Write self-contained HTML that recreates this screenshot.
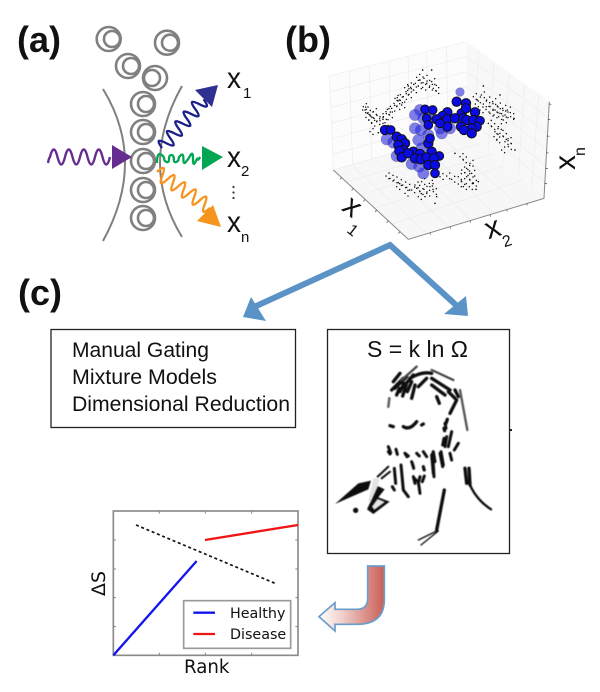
<!DOCTYPE html>
<html><head><meta charset="utf-8"><style>
html,body{margin:0;padding:0;background:#fff}
svg{display:block}
text{font-family:"Liberation Sans",sans-serif;fill:#111}
.dv{font-family:"DejaVu Sans",sans-serif}
</style></head><body>
<svg width="600" height="692" viewBox="0 0 600 692" xmlns="http://www.w3.org/2000/svg">
<defs>
<linearGradient id="rg" x1="0" x2="1" y1="0" y2="0"><stop offset="0" stop-color="#fff"/><stop offset=".35" stop-color="#f0d0cc"/><stop offset="1" stop-color="#c95f55"/></linearGradient>
<filter id="soft" x="-5%" y="-5%" width="110%" height="110%"><feGaussianBlur stdDeviation="0.45"/></filter>
<path id="dots" stroke="#111" stroke-width="4.500" stroke-linecap="round" fill="none" d="M280 320h0M285 330h0M292 340h0M300 345h0M288 352h0M296 360h0M305 370h0M312 355h0M320 365h0M330 362h0M340 350h0M348 335h0M358 345h0M365 325h0M372 310h0M380 320h0M388 300h0M395 315h0M400 290h0M408 275h0M415 285h0M422 262h0M430 270h0M436 250h0M445 258h0M450 240h0M458 262h0M462 235h0M470 250h0M478 262h0M485 245h0M490 265h0M497 272h0M415 258h0M375 295h0M300 395h0M278 330h0M310 335h0M345 368h0M440 232h0M404 263h0M382 293h0M352 328h0M330 350h0
M610 290h0M622 300h0M634 285h0M640 312h0M650 300h0M660 320h0M668 305h0M675 330h0M682 318h0M690 340h0M698 325h0M705 345h0M712 330h0M722 350h0M660 340h0M672 345h0M686 350h0M700 360h0M655 370h0M665 380h0M675 395h0M685 380h0M690 400h0M700 410h0M680 420h0M705 425h0M715 440h0M695 450h0M672 410h0M630 330h0M648 328h0M714 422h0M616 312h0
M348 528h0M360 535h0M372 540h0M385 548h0M398 555h0M410 562h0M425 570h0M405 580h0M440 565h0M450 575h0M462 568h0M470 580h0M480 560h0M490 575h0M445 590h0M380 560h0M435 555h0M455 545h0M478 550h0M510 530h0M530 528h0M545 538h0M565 530h0M575 545h0M590 530h0M605 520h0M575 510h0M590 505h0M600 490h0M580 480h0M570 470h0M610 550h0M598 560h0M580 560h0M565 552h0M600 540h0M585 518h0"/>
</defs>

<!-- panel labels -->
<text x="17" y="52" font-size="36" font-weight="700">(a)</text>
<text x="285" y="52" font-size="36" font-weight="700">(b)</text>
<text x="18" y="305" font-size="36" font-weight="700">(c)</text>

<!-- panel a -->
<g fill="none" stroke="#808080" stroke-width="2">
<path d="M103 89Q125 125 125 163T103 241"/>
<path d="M182 86Q160 125 160 163T182 237"/>
<g stroke-width="2.600">
<circle cx="108.700" cy="39" r="12"/><circle cx="112" cy="39" r="8"/>
<circle cx="167" cy="42.700" r="12"/><circle cx="170" cy="42.700" r="8"/>
<circle cx="128" cy="66" r="12"/><circle cx="131" cy="66" r="8"/>
<circle cx="155" cy="78" r="12"/><circle cx="152" cy="78" r="8"/>
<circle cx="143" cy="104" r="12"/><circle cx="146" cy="104" r="8"/>
<circle cx="143" cy="132" r="12"/><circle cx="146" cy="132" r="8"/>
<circle cx="143" cy="161" r="12"/><circle cx="146" cy="161" r="8"/>
<circle cx="143" cy="190" r="12"/><circle cx="146" cy="190" r="8"/>
<circle cx="143" cy="218" r="12"/><circle cx="146" cy="218" r="8"/>
</g>
</g>
<path d="M48 163Q49 157 50 157q3.750 -15 7.500 0t7.500 0t7.500 0t7.500 0t7.500 0t7.500 0t7.500 0t7.500 0" fill="none" stroke="#662d91" stroke-width="2.400"/>
<polygon points="112,145 132,157 112,169" fill="#662d91"/>
<g transform="translate(162,148) rotate(-49.500)"><path d="M0 0q3.200 -14 6.400 0t6.400 0t6.400 0t6.400 0t6.400 0t6.400 0t6.400 0t6.400 0t6.400 0t6.400 0" fill="none" stroke="#1b1f8a" stroke-width="2.300"/></g>
<polygon points="218,85 195,90 212,107" fill="#2e3192"/>
<path d="M157 163q0 -12 4.800 -8q2.400 2 2.400 4t2.400 3t2.400 -3t2.400 -4t2.400 4t2.400 3t2.400 -3t2.400 -4t2.400 4t2.400 3t2.400 -3t2.400 -4t2.400 4t2.400 3t2.400 -3t2.400 -2" fill="none" stroke="#00a651" stroke-width="2.300"/>
<polygon points="202,146 223,157 202,170" fill="#00a651"/>
<g transform="translate(157,172) rotate(34)"><path d="M0 0q3.200 -14 6.400 0t6.400 0t6.400 0t6.400 0t6.400 0t6.400 0t6.400 0t6.400 0t6.400 0t6.400 0" fill="none" stroke="#f7941d" stroke-width="2.300"/></g>
<polygon points="213,205 221,227 197,221" fill="#f7941d"/>
<text x="227" y="88" font-size="30" textLength="14" lengthAdjust="spacingAndGlyphs">x</text><text x="243" y="98" font-size="15">1</text>
<text x="227" y="167" font-size="30" textLength="14" lengthAdjust="spacingAndGlyphs">x</text><text x="241" y="176" font-size="15">2</text>
<text x="227" y="232" font-size="30" textLength="14" lengthAdjust="spacingAndGlyphs">x</text><text x="241" y="242" font-size="15">n</text>
<g fill="#333"><circle cx="233.500" cy="187" r="1.100"/><circle cx="233.500" cy="192.500" r="1.100"/><circle cx="233.500" cy="198" r="1.100"/></g>

<!-- panel b: 3D plot -->
<g transform="translate(270,0) scale(.33333)">
<polygon points="590,125 178,228 190,510 590,395" fill="#fcfcfc"/>
<polygon points="590,125 838,305 822,595 590,395" fill="#f8f8f8"/>
<polygon points="190,510 415,718 822,595 590,395" fill="#f7f7f7"/>
<g stroke="#ececec" stroke-width="2" fill="none">
<path d="M178 228L190 510M238 213L248 493M298 198L305 476M357 183L364 460M414 169L420 443M470 155L476 428M530 140L533 411"/>
<path d="M178 228L590 125M181 275L590 170M183 322L590 215M185 369L590 260M187 416L590 305M189 463L590 350"/>
<path d="M626 151L612 415M672 185L655 452M718 218L700 491M764 251L745 530M806 282L785 563"/>
<path d="M590 170L835 352M590 215L832 400M590 260L830 450M590 305L827 498M590 350L824 546"/>
<path d="M190 510L590 395M228 545L630 430M270 585L668 462M315 625L708 496M365 672L760 540"/>
<path d="M250 500L470 700M320 480L535 680M390 460L605 660M460 440L675 640M525 420L750 620"/>
</g>
<path d="M190 510L415 718L822 595L838 305" fill="none" stroke="#888" stroke-width="3"/>
<path d="M215 532l-5 6M250 565l-5 6M285 598l-5 6M320 630l-5 6M355 662l-5 6M390 695l-5 6M480 698l2 6M540 680l2 6M600 662l2 6M660 644l2 6M710 628l2 6M770 610l2 6M823 550l8 1M826 505l8 1M828 458l8 1M830 408l8 1M833 358l8 1M836 312l8 1" stroke="#666" stroke-width="2.500" fill="none"/>
<use href="#dots"/>
<use href="#dots" transform="translate(9,8)"/>
<use href="#dots" transform="translate(9,-9)"/>
<path stroke="#111" stroke-width="5" stroke-linecap="round" fill="none" d="M458 210h0M485 210h0M640 258h0M690 285h0M732 355h0M735 450h0M495 610h0M500 590h0M465 590h0M618 568h0M625 545h0M555 460h0M325 398h0"/>
</g>
<g transform="translate(360,80) scale(.33333)">
<g fill="#2a2ae0" fill-opacity=".6" stroke="#223" stroke-opacity=".25" stroke-width="2">
<circle cx="300" cy="36" r="13"/><circle cx="180" cy="90" r="17"/><circle cx="165" cy="105" r="17"/><circle cx="165" cy="145" r="17"/><circle cx="183" cy="150" r="17"/><circle cx="80" cy="178" r="17"/><circle cx="100" cy="188" r="17"/><circle cx="110" cy="228" r="17"/><circle cx="155" cy="252" r="17"/><circle cx="178" cy="260" r="17"/><circle cx="190" cy="280" r="17"/><circle cx="212" cy="115" r="17"/><circle cx="245" cy="160" r="17"/><circle cx="270" cy="145" r="17"/><circle cx="205" cy="165" r="17"/><circle cx="175" cy="180" r="17"/><circle cx="190" cy="115" r="17"/><circle cx="240" cy="145" r="17"/><circle cx="185" cy="205" r="17"/>
</g>
<g fill="#0a0ae6" stroke="#111" stroke-width="3">
<circle cx="290" cy="65" r="14"/><circle cx="318" cy="70" r="14"/><circle cx="195" cy="88" r="13"/><circle cx="218" cy="90" r="13"/><circle cx="262" cy="97" r="14"/><circle cx="248" cy="108" r="14"/><circle cx="305" cy="100" r="14"/><circle cx="318" cy="85" r="14"/><circle cx="345" cy="97" r="14"/><circle cx="230" cy="118" r="14"/><circle cx="262" cy="118" r="14"/><circle cx="285" cy="115" r="14"/><circle cx="310" cy="115" r="14"/><circle cx="320" cy="120" r="14"/><circle cx="340" cy="120" r="14"/><circle cx="360" cy="122" r="13"/><circle cx="303" cy="140" r="14"/><circle cx="350" cy="140" r="14"/><circle cx="335" cy="145" r="14"/><circle cx="312" cy="150" r="14"/><circle cx="335" cy="160" r="14"/><circle cx="262" cy="140" r="14"/><circle cx="240" cy="130" r="13"/><circle cx="200" cy="115" r="13"/><circle cx="205" cy="135" r="13"/>
<circle cx="75" cy="150" r="14"/><circle cx="92" cy="150" r="13"/><circle cx="110" cy="170" r="14"/><circle cx="125" cy="178" r="14"/><circle cx="135" cy="190" r="14"/><circle cx="115" cy="195" r="14"/><circle cx="130" cy="210" r="14"/><circle cx="118" cy="213" r="14"/><circle cx="125" cy="232" r="14"/><circle cx="160" cy="215" r="14"/><circle cx="180" cy="222" r="14"/><circle cx="145" cy="220" r="14"/><circle cx="205" cy="190" r="14"/><circle cx="210" cy="175" r="13"/><circle cx="215" cy="215" r="14"/><circle cx="238" cy="228" r="13"/><circle cx="165" cy="235" r="14"/><circle cx="182" cy="238" r="14"/><circle cx="200" cy="232" r="14"/><circle cx="222" cy="235" r="14"/><circle cx="205" cy="255" r="14"/><circle cx="225" cy="255" r="14"/><circle cx="225" cy="280" r="13"/>
</g>
</g>
<g transform="translate(270,0) scale(.33333)">
<text transform="translate(212,628) rotate(38)" font-size="90">x</text>
<text transform="translate(228,695) rotate(38)" font-size="48">1</text>
<text transform="translate(655,718) rotate(-18)" font-size="90">x</text>
<text transform="translate(703,742) rotate(-18)" font-size="48">2</text>
<text transform="translate(915,510) rotate(-90)" font-size="90">x</text>
<text transform="translate(945,468) rotate(-90)" font-size="48">n</text>
</g>

<!-- blue arrows -->
<path d="M254 307L390 245L456 305" fill="none" stroke="#5b93c7" stroke-width="6"/>
<polygon points="243,317 251,297 266,321" fill="#5b93c7"/>
<polygon points="468,316 466,296 444,314" fill="#5b93c7"/>

<!-- boxes -->
<rect x="51" y="329.500" width="244.500" height="98" fill="#fff" stroke="#222" stroke-width="1.300"/>
<text x="72" y="357" font-size="21" textLength="137" lengthAdjust="spacingAndGlyphs">Manual Gating</text>
<text x="72" y="384" font-size="21" textLength="145" lengthAdjust="spacingAndGlyphs">Mixture Models</text>
<text x="72" y="411" font-size="21" textLength="218" lengthAdjust="spacingAndGlyphs">Dimensional Reduction</text>
<rect x="327.500" y="329.500" width="182" height="224" fill="#fff" stroke="#222" stroke-width="1.300"/>
<text x="367" y="357" font-size="23" textLength="101" lengthAdjust="spacingAndGlyphs">S = k ln Ω</text>
<rect x="510" y="429" width="2" height="2" fill="#222"/>

<!-- face -->
<g filter="url(#soft)">
<g transform="translate(360,360) scale(.33333)" fill="none" stroke="#111" stroke-width="10" stroke-linecap="round">
<path d="M100 65L120 40M95 90L130 55M130 80L160 45M150 55Q185 33 215 40M128 108L140 70M110 105L118 85M155 115L165 75M175 80L200 55M215 55L270 90M215 75L255 105M265 95L285 115M285 90L295 110M290 120L270 160M230 110L238 130M262 178L258 190M252 205L254 212M90 197L100 200M130 200Q150 212 170 185M185 195L190 192M105 85L125 60M115 75L140 50M120 95L132 70M142 95L155 65"/>
<path d="M125 60L170 20M215 30L280 60" stroke="#444" stroke-width="7"/>
<path d="M300 90L322 210" stroke="#555" stroke-width="7"/>
<path d="M85 140L88 115" stroke="#666" stroke-width="8"/>
</g>
<g transform="translate(320,320) scale(.33333)" fill="none" stroke="#111" stroke-width="9" stroke-linecap="round">
<path d="M372 355L368 375M385 380L395 335M403 390L415 370M205 380L212 398M228 388L232 403M255 400L265 408M290 400L298 408M310 395L320 410M340 395L345 425M335 405L340 460M360 400L368 440M275 425L280 440M310 440L312 450M280 470L285 490M300 470L295 490M375 310L378 325M375 380L380 350"/>
</g>
<g transform="translate(335,450) scale(.33333)" stroke-linecap="round">
<g fill="none" stroke="#111" stroke-width="9">
<path d="M178 55L182 100M198 45L205 120L220 140M232 40L236 55M265 50L268 60M238 85L245 92M268 78L262 95M250 95L255 130M172 110L178 120M293 10L297 80M318 5L325 45M345 10L350 30M160 5L165 12M210 10L216 20"/>
<path d="M390 55L395 100M402 55L405 105" stroke-width="10"/>
<path d="M405 105Q425 150 468 178" stroke-width="7"/>
<path d="M328 120L305 240" stroke-width="10"/>
<path d="M305 243L250 270M310 243L258 285" stroke-width="4"/>
<path d="M128 80L160 50M140 85L165 65" stroke-width="6"/>
</g>
<polygon points="0,162 70,100 108,92 100,118 50,140" fill="#111"/>
<polygon points="100,155 115,85 135,85 125,120 108,160" fill="#e4e4e4"/>
<polygon points="96,178 128,108 149,118 130,142 164,155 115,192" fill="#111"/>
<polygon points="112,170 128,148 148,156 118,178" fill="#e6e6e6"/>
<circle cx="62" cy="181" r="8" fill="#111"/>
</g>
</g>

<!-- red arrow -->
<g transform="translate(70,500) scale(.33333)">
<path d="M893 198H943V300Q943 373 860 373H795V393L747 350L795 308V328H860Q893 328 893 295Z" fill="url(#rg)" stroke="#6c9ccb" stroke-width="5"/>
</g>

<!-- bottom plot -->
<g transform="translate(70,500) scale(.33333)">
<rect x="130" y="33" width="554" height="433" fill="#fff" stroke="#8a8a8a" stroke-width="5"/>
<path d="M268 33v8M406 33v8M545 33v8M268 466v-8M406 466v-8M545 466v-8M130 120h8M130 207h8M130 293h8M130 380h8M684 120h-8M684 207h-8M684 293h-8M684 380h-8" stroke="#888" stroke-width="3"/>
<path d="M130 466L380 183" stroke="#1414f0" stroke-width="7" fill="none"/>
<path d="M405 120L684 75" stroke="#f01414" stroke-width="7" fill="none"/>
<path d="M198 75L615 250" stroke="#111" stroke-width="5" stroke-dasharray="9 8" fill="none"/>
<rect x="341" y="302" width="321" height="143" fill="#fff" stroke="#999" stroke-width="5"/>
<path d="M370 338H435" stroke="#1414f0" stroke-width="7"/>
<path d="M370 402H435" stroke="#f01414" stroke-width="7"/>
</g>
<text class="dv" x="230" y="618" font-size="14.300">Healthy</text>
<text class="dv" x="230" y="639" font-size="14.300">Disease</text>
<text class="dv" x="184" y="673" font-size="18.200">Rank</text>
<text class="dv" transform="translate(105,596) rotate(-90)" font-size="19">ΔS</text>
</svg>
</body></html>
